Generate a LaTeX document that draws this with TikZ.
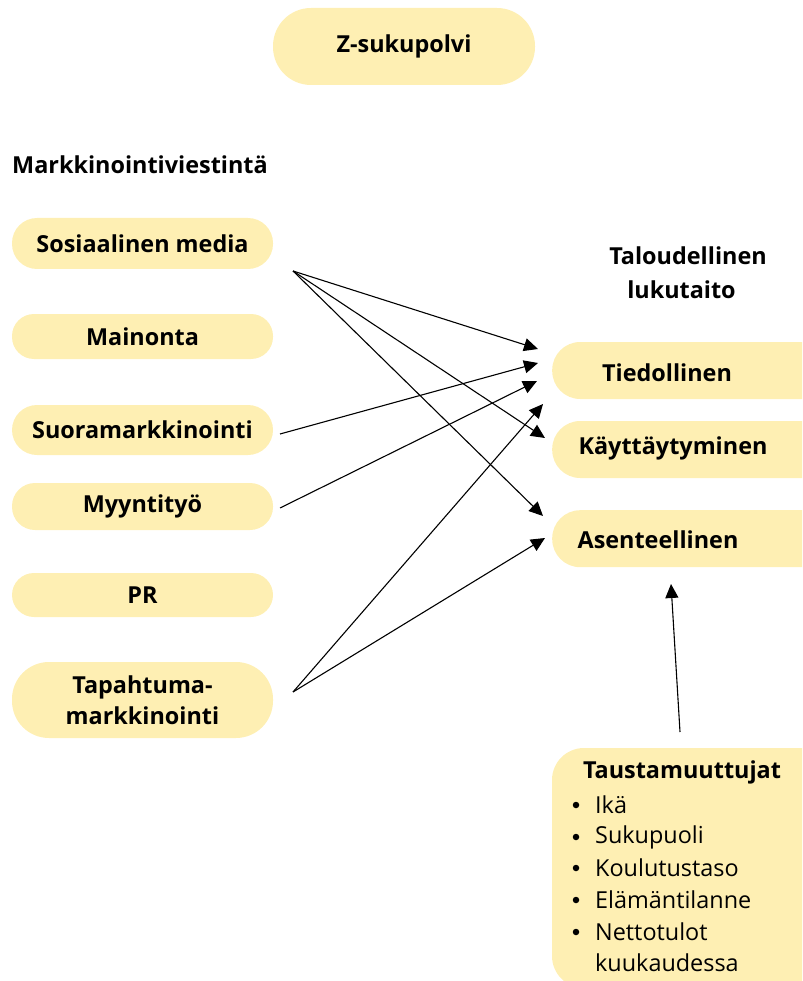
\documentclass[tikz,border=0pt]{standalone}
\usepackage{fontspec}
\setmainfont{Open Sans}
\usetikzlibrary{arrows.meta}
\definecolor{boxy}{RGB}{254,239,179}
\begin{document}
\begin{tikzpicture}[x=1pt,y=-1pt,
  box/.style={fill=boxy, draw=none, inner sep=0pt, align=center},
  lbl/.style={font=\fontsize{23.4}{31}\selectfont\bfseries},
  item/.style={font=\fontsize{23.4}{28}\selectfont, anchor=west, inner sep=0pt},
  arr/.style={-{Triangle[length=14pt,width=13pt]}, line width=1.1pt}]
\useasboundingbox (0,0) rectangle (802,981);
\clip (0,0) rectangle (802,981);

% top
\node[box, lbl, minimum width=262pt, minimum height=77pt, rounded corners=38pt] (z) at (404,46.5) {Z-sukupolvi};

\node[lbl, anchor=west, inner sep=0pt] (mv) at (12,165) {Markkinointiviestintä};

% left boxes
\node[box, lbl, minimum width=261pt, minimum height=51pt, rounded corners=25pt] (sm) at (142.5,243.5) {Sosiaalinen media};
\node[box, lbl, minimum width=261pt, minimum height=45pt, rounded corners=22pt] (ma) at (142.5,336.5) {Mainonta};
\node[box, lbl, minimum width=261pt, minimum height=50pt, rounded corners=25pt] (su) at (142.5,430) {Suoramarkkinointi};
\node[box, lbl, minimum width=261pt, minimum height=47pt, rounded corners=23pt] (my) at (142.5,506.5) {Myyntityö};
\node[box, lbl, minimum width=261pt, minimum height=44pt, rounded corners=22pt] (pr) at (142.5,595) {PR};
\node[box, lbl, minimum width=261pt, minimum height=76pt, rounded corners=37pt, font=\fontsize{23.4}{31}\selectfont\bfseries] (ta) at (142.5,700) {Tapahtuma-\\markkinointi};

% right
\node[lbl, inner sep=0pt] (tl1) at (688,256) {Taloudellinen};
\node[lbl, inner sep=0pt] (tl2) at (681.5,290) {lukutaito};

\node[box, minimum width=300pt, minimum height=57pt, rounded corners=28pt, anchor=west] (ti) at (552,370.5) {};
\node[lbl, inner sep=0pt] (tit) at (667,373) {Tiedollinen};
\node[box, minimum width=300pt, minimum height=57pt, rounded corners=28pt, anchor=west] (ka) at (552,449.5) {};
\node[lbl, inner sep=0pt] (kat) at (673,448) {Käyttäytyminen};
\node[box, minimum width=300pt, minimum height=57pt, rounded corners=28pt, anchor=north west] (as) at (552,510) {};
\node[lbl, inner sep=0pt] (ast) at (658,540) {Asenteellinen};

% background variables
\fill[boxy, rounded corners=32pt] (552,748) rectangle (860,988);
\coordinate (tm) at (552,748);
\node[lbl, inner sep=0pt] (tmt) at (682,772) {Taustamuuttujat};
\foreach \y/\t/\n in {805/Ikä/i1, 837/Sukupuoli/i2, 868/Koulutustaso/i3, 900/Elämäntilanne/i4, 932/Nettotulot/i5}{
  \node[item] (\n) at (595,\y) {\t};
  \node[fill=black, circle, inner sep=0pt, minimum size=6.5pt] (b\n) at (576,\y) {};
}
\node[item] (i6) at (595,963) {kuukaudessa};

% connector end points
\coordinate (smOut) at (293,271);
\coordinate (suOut) at (280,434);
\coordinate (myOut) at (280,508);
\coordinate (taOut) at (293,692);
\coordinate (tmOut) at (680,732);
\coordinate (tiIn1) at (538,349);
\coordinate (tiIn2) at (538,363);
\coordinate (tiIn3) at (537,381);
\coordinate (tiIn4) at (543,404);
\coordinate (kaIn) at (545,438);
\coordinate (asIn1) at (543,516);
\coordinate (asIn2) at (545,538);
\coordinate (asIn3) at (671,584);

\draw[arr] (smOut) -- (tiIn1);
\draw[arr] (smOut) -- (kaIn);
\draw[arr] (smOut) -- (asIn1);
\draw[arr] (suOut) -- (tiIn2);
\draw[arr] (myOut) -- (tiIn3);
\draw[arr] (taOut) -- (tiIn4);
\draw[arr] (taOut) -- (asIn2);
\draw[arr] (tmOut) -- (asIn3);
\end{tikzpicture}
\end{document}
